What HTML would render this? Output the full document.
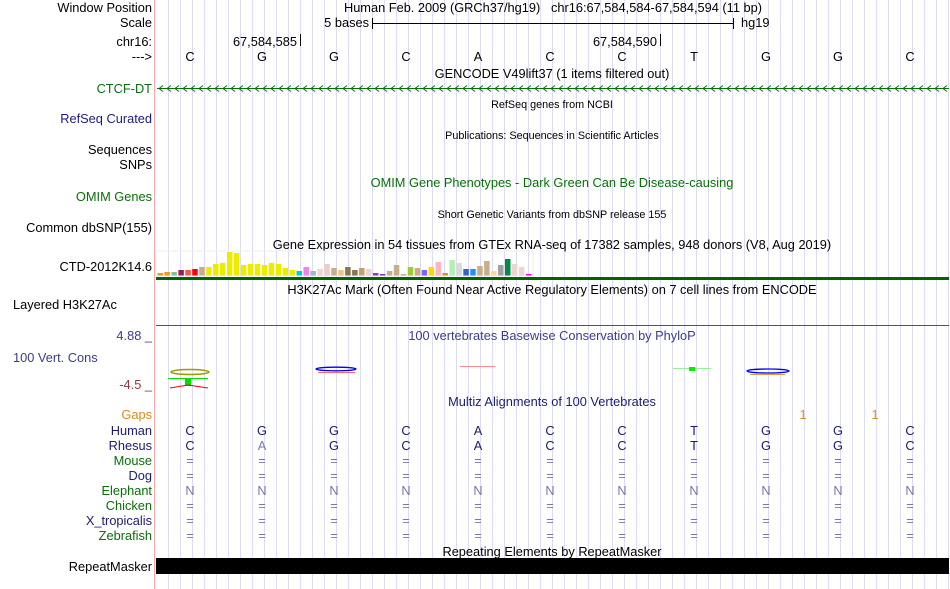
<!DOCTYPE html>
<html><head><meta charset="utf-8">
<style>
html,body{margin:0;padding:0;background:#fff;}
svg{display:block;font-family:"Liberation Sans",sans-serif;}
</style></head>
<body>
<svg id="s" width="950" height="589" xmlns="http://www.w3.org/2000/svg" font-size="12.8">
<g id="grid"></g>
<line x1="154.5" y1="0" x2="154.5" y2="589" stroke="#f4a8a8" stroke-width="1"/>
<g text-anchor="end" fill="#000">
<text x="152" y="12">Window Position</text>
<text x="152" y="27">Scale</text>
<text x="152" y="46">chr16:</text>
<text x="152" y="61">---&gt;</text>
<text x="152" y="93" fill="#0a6e0a">CTCF-DT</text>
<text x="152" y="123" fill="#1c1c80">RefSeq Curated</text>
<text x="152" y="154">Sequences</text>
<text x="152" y="169">SNPs</text>
<text x="152" y="201" fill="#0a6e0a">OMIM Genes</text>
<text x="152" y="232">Common dbSNP(155)</text>
<text x="152" y="271">CTD-2012K14.6</text>
<text x="13" y="309" text-anchor="start">Layered H3K27Ac</text>
<text x="152" y="340" fill="#3c3c8c">4.88 _</text>
<text x="13" y="362" fill="#3c3c8c" text-anchor="start">100 Vert. Cons</text>
<text x="152" y="389" fill="#8c3c3c">-4.5 _</text>
<text x="152" y="419" fill="#e0891e">Gaps</text>
<text x="152" y="435" fill="#1c1c6e">Human</text>
<text x="152" y="450" fill="#1c1c6e">Rhesus</text>
<text x="152" y="465" fill="#0a6e0a">Mouse</text>
<text x="152" y="480" fill="#1c1c6e">Dog</text>
<text x="152" y="495" fill="#0a6e0a">Elephant</text>
<text x="152" y="510" fill="#0a6e0a">Chicken</text>
<text x="152" y="525" fill="#1c1c6e">X_tropicalis</text>
<text x="152" y="540" fill="#0a6e0a">Zebrafish</text>
<text x="152" y="571">RepeatMasker</text>
</g>
<g text-anchor="middle">
<text x="553" y="12" xml:space="preserve" style="white-space:pre">Human Feb. 2009 (GRCh37/hg19)   chr16:67,584,584-67,584,594 (11 bp)</text>
<text x="552" y="78">GENCODE V49lift37 (1 items filtered out)</text>
<text x="552" y="108" font-size="10.8">RefSeq genes from NCBI</text>
<text x="552" y="139" font-size="10.8">Publications: Sequences in Scientific Articles</text>
<text x="552" y="187" fill="#0a6e0a">OMIM Gene Phenotypes - Dark Green Can Be Disease-causing</text>
<text x="552" y="218" font-size="10.8">Short Genetic Variants from dbSNP release 155</text>
<text x="552" y="249">Gene Expression in 54 tissues from GTEx RNA-seq of 17382 samples, 948 donors (V8, Aug 2019)</text>
<text x="552" y="294">H3K27Ac Mark (Often Found Near Active Regulatory Elements) on 7 cell lines from ENCODE</text>
<text x="552" y="340" fill="#3c3c8c">100 vertebrates Basewise Conservation by PhyloP</text>
<text x="552" y="406" fill="#1c1c6e">Multiz Alignments of 100 Vertebrates</text>
<text x="552" y="556">Repeating Elements by RepeatMasker</text>
</g>
<text x="369" y="27" text-anchor="end">5 bases</text>
<line x1="372.5" y1="18" x2="372.5" y2="29" stroke="#000"/>
<line x1="372" y1="23.5" x2="733" y2="23.5" stroke="#000"/>
<line x1="733.5" y1="18" x2="733.5" y2="29" stroke="#000"/>
<text x="741" y="27">hg19</text>
<text x="297" y="46" text-anchor="end">67,584,585</text>
<line x1="300.5" y1="34" x2="300.5" y2="46" stroke="#000"/>
<text x="657" y="46" text-anchor="end">67,584,590</text>
<line x1="660.5" y1="34" x2="660.5" y2="46" stroke="#000"/>
<g id="bases" text-anchor="middle"></g>
<line x1="157" y1="88.5" x2="949" y2="88.5" stroke="#0a6e0a"/>
<g id="arrows" stroke="#0a6e0a" fill="none"></g>
<g id="bars"></g>
<rect x="156" y="277" width="793" height="3" fill="#006400"/>
<line x1="156" y1="325.5" x2="949" y2="325.5" stroke="#5a4a7a"/>
<ellipse cx="190" cy="372" rx="19" ry="2.5" fill="none" stroke="#9c9c00" stroke-width="1.5"/>
<line x1="168" y1="378.5" x2="208" y2="378.5" stroke="#00e000"/>
<rect x="185" y="378" width="6" height="8" fill="#00e000"/>
<path d="M170 388 L188 385 L208 388" stroke="#f00" fill="none"/>
<ellipse cx="336" cy="369" rx="20" ry="1.8" fill="none" stroke="#00f" stroke-width="1.3"/>
<line x1="318" y1="372.5" x2="355" y2="372.5" stroke="#f66"/>
<line x1="460" y1="366.5" x2="495" y2="366.5" stroke="#f88"/>
<line x1="673" y1="368.5" x2="711" y2="368.5" stroke="#9e9"/>
<rect x="689" y="367" width="6" height="4" fill="#0e0"/>
<ellipse cx="768" cy="371" rx="21" ry="2" fill="none" stroke="#00f" stroke-width="1.3"/>
<line x1="750" y1="374.5" x2="785" y2="374.5" stroke="#d8a040"/>
<text x="803" y="419" fill="#e0891e" text-anchor="middle">1</text>
<text x="875" y="419" fill="#e0891e" text-anchor="middle">1</text>
<g id="mz" text-anchor="middle"></g>
<rect x="156" y="558" width="793" height="16" fill="#000"/>
</svg>
<script>
var NS="http://www.w3.org/2000/svg";
function el(p,t,a,txt){var e=document.createElementNS(NS,t);for(var k in a)e.setAttribute(k,a[k]);if(txt!=null)e.textContent=txt;document.getElementById(p).appendChild(e);return e;}
for(var x=168;x<950;x+=12){el("grid","line",{x1:x+.5,y1:0,x2:x+.5,y2:589,stroke:"#dcdcf4"});}
var seq="CGGCACCTGGC",rh="CAGCACCTGGC";
for(var i=0;i<11;i++){var cx=190+72*i;
el("bases","text",{x:cx,y:61},seq[i]);
el("mz","text",{x:cx,y:435,fill:"#1c1c6e"},seq[i]);
el("mz","text",{x:cx,y:450,fill:i==1?"#7878b4":"#1c1c6e"},rh[i]);
var rows=["=","=","N","=","=","="];
for(var r=0;r<6;r++)el("mz","text",{x:cx,y:465+15*r,fill:"#7878a8"},rows[r]);}
for(var x=159;x<948;x+=8){el("arrows","path",{d:"M"+(x+4)+" 85.5 L"+x+" 88.5 L"+(x+4)+" 91.5"});}
var b=[["#f0932b",3],["#ef9a1c",4],["#8fbc8f",4],["#9b1d5a",6],["#f05a40",6],["#ff0000",7],["#c8ad8c",9],["#ecec00",9],["#ecec00",12],["#ecec00",13],["#ecec00",24],["#ecec00",23],["#ecec00",11],["#ecec00",12],["#ecec00",12],["#ecec00",11],["#ecec00",13],["#ecec00",12],["#ecec00",8],["#ecec00",6],["#00cccc",5],["#ee82ee",9],["#9ab8cc",5],["#eed5d2",7],["#eecccc",12],["#c8ad8c",8],["#f4c07c",6],["#8b7355",9],["#8b7355",6],["#c8a070",8],["#eed5d2",7],["#9932cc",3],["#7a3ab0",2],["#c8ad8c",5],["#c8ad8c",11],["#c8ad8c",2],["#9acd32",9],["#c8ad8c",8],["#7b68ee",6],["#ffd700",9],["#ffb6c1",14],["#cd9b1d",3],["#b4eeb4",16],["#d9d9d9",13],["#3a5fcd",7],["#1e90ff",7],["#c8ad8c",10],["#c8ad8c",15],["#ffd39b",5],["#a0a0a0",11],["#008b45",17],["#eed5d2",12],["#eed5d2",9],["#ff00ff",2]];
for(var i=0;i<b.length;i++){el("bars","rect",{x:157.5+i*6.95,y:276-b[i][1],width:5.5,height:b[i][1],fill:b[i][0]});}
el("bars","rect",{x:156,y:251,width:377,height:25,fill:"none",stroke:"#eee"});
</script>
</body></html>
